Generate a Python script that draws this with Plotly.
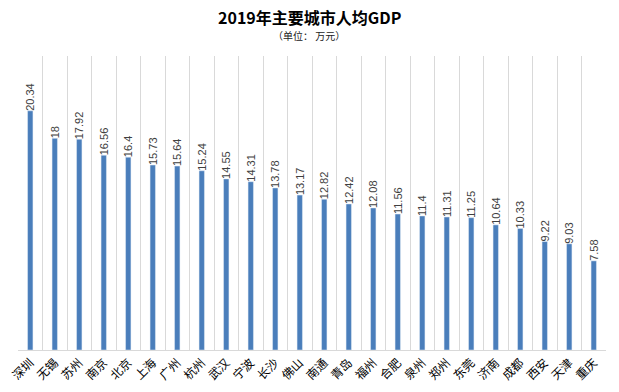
import plotly.graph_objects as go

cities = ["深圳", "无锡", "苏州", "南京", "北京", "上海", "广州", "杭州", "武汉", "宁波", "长沙", "佛山",
          "南通", "青岛", "福州", "合肥", "泉州", "郑州", "东莞", "济南", "成都", "西安", "天津", "重庆"]
gdp_per_capita = [20.34, 18, 17.92, 16.56, 16.4, 15.73, 15.64, 15.24, 14.55, 14.31, 13.78, 13.17,
                  12.82, 12.42, 12.08, 11.56, 11.4, 11.31, 11.25, 10.64, 10.33, 9.22, 9.03, 7.58]
value_labels = [f"{v:g}" for v in gdp_per_capita]

fig = go.Figure(go.Bar(
    x=cities, y=gdp_per_capita,
    marker_color="#4a7ebb", width=0.22,
    text=value_labels, textposition="outside", textangle=-90, constraintext="none",
    textfont=dict(family="Liberation Sans, Arial, sans-serif", size=11, color="#404040"),
    cliponaxis=False,
))

fig.update_layout(
    width=619, height=392, autosize=False,
    margin=dict(l=18, r=13, t=56, b=42, autoexpand=False),
    plot_bgcolor="white", paper_bgcolor="white",
    showlegend=False,
)

fig.add_annotation(text="<b>2019年主要城市人均GDP</b>", xref="paper", yref="paper", x=0.495, y=1.0,
                   yanchor="middle", yshift=39, showarrow=False,
                   font=dict(family="Noto Sans CJK SC, sans-serif", size=16, color="#000000"))
fig.add_annotation(text="（单位： 万元）", xref="paper", yref="paper", x=0.495, y=1.0,
                   yanchor="middle", yshift=21, showarrow=False,
                   font=dict(family="Noto Sans CJK SC, sans-serif", size=10, color="#222222"))

fig.update_xaxes(
    type="category", tickson="boundaries", showgrid=True, gridcolor="#d9d9d9", gridwidth=1,
    showline=True, linecolor="#d9d9d9", ticks="", tickangle=-45, automargin=False,
    tickfont=dict(family="Noto Sans CJK SC, sans-serif", size=12, color="#000000"),
)
fig.update_yaxes(range=[0, 25], showgrid=False, showticklabels=False, zeroline=False,
                 showline=False, automargin=False)

fig.write_html("out.html", config={"responsive": False, "displayModeBar": False},
               post_script="document.body.style.margin='0';document.body.style.overflow='hidden';")
